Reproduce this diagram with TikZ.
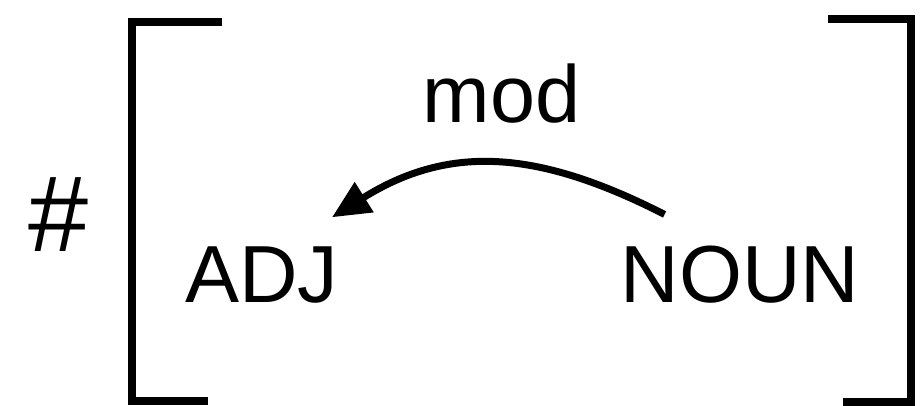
\documentclass[tikz,border=0pt]{standalone}
\usepackage{fontspec}
\setmainfont{Liberation Sans}
\usetikzlibrary{arrows.meta}
\begin{document}
\begin{tikzpicture}[x=1pt,y=1pt,
  lbl/.style={inner sep=0pt,outer sep=0pt,anchor=base west,font=\fontsize{81}{81}\selectfont},
  bigsym/.style={inner sep=0pt,outer sep=0pt,anchor=base west,font=\fontsize{108}{108}\selectfont},
  bracket/.style={line width=8pt,line join=miter,line cap=butt},
  dep/.style={line width=7pt,-{Triangle[length=38pt,width=34pt]}}]
  \fill[white] (0,0) rectangle (923,406);
  \useasboundingbox (0,0) rectangle (923,406);

  % feature structure brackets
  \draw[bracket] (222,384) -- (132,384) -- (132,5) -- (208,5);
  \draw[bracket] (828,387) -- (911,387) -- (911,4) -- (843,4);

  % labels
  \node[bigsym] (hash) at (28,154) {\#};
  \node[lbl] (adj) at (185,103) {ADJ};
  \node[lbl] (noun) at (620.6,103) {NOUN};
  \node[lbl] (mod) at (422.7,283) {mod};

  % dependency arc
  \draw[dep] ([shift={(44,32)}]noun.north west)
     .. controls +(153:140) and +(32:140) .. ([shift={(-6,30)}]adj.north east);
\end{tikzpicture}
\end{document}
